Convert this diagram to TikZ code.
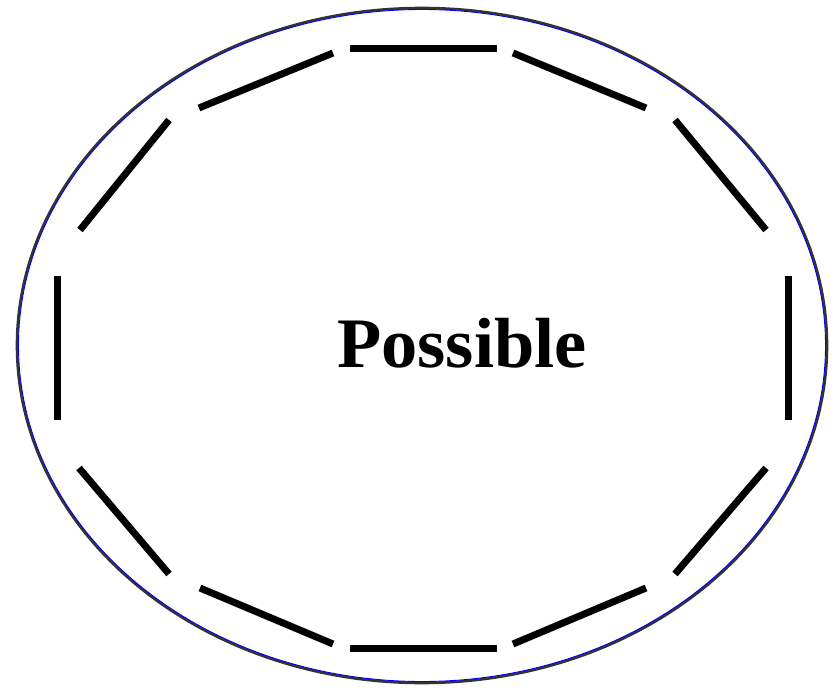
\documentclass[tikz,border=0pt]{standalone}
\usepackage{fontspec}
\newfontfamily\timesbf{Liberation Serif}[BoldFont={* Bold}]
\begin{document}
\begin{tikzpicture}[x=0.5pt, y=-0.5pt, bar/.style={black, line width=3.5pt, line cap=butt}]
      \useasboundingbox (0,0) rectangle (838,688);
      \coordinate (c) at (422,345.5);
      \draw[black!80, line width=1.3pt] (c) ellipse [x radius=405, y radius=337.5];
      \draw[blue, line width=0.45pt] (c) ellipse [x radius=403.5, y radius=336];
      \coordinate (1a) at (350,49);   \coordinate (1b) at (497,49);
      \coordinate (2a) at (513,53);   \coordinate (2b) at (646,108);
      \coordinate (3a) at (675,120);  \coordinate (3b) at (766,230);
      \coordinate (4a) at (788,276);  \coordinate (4b) at (788,420);
      \coordinate (5a) at (766,468);  \coordinate (5b) at (675,574);
      \coordinate (6a) at (646,588);  \coordinate (6b) at (513,644);
      \coordinate (7a) at (497,648);  \coordinate (7b) at (350,648);
      \coordinate (8a) at (333,644);  \coordinate (8b) at (200,588);
      \coordinate (9a) at (169,574);  \coordinate (9b) at (79,468);
      \coordinate (10a) at (57,420);  \coordinate (10b) at (57,276);
      \coordinate (11a) at (80,230);  \coordinate (11b) at (169,120);
      \coordinate (12a) at (199,108); \coordinate (12b) at (333,53);
      \foreach \i in {1,...,12} {
        \draw[bar] (\i a) -- (\i b);
      }
      \node[inner sep=0pt] (word) at (462,343) {\timesbf\bfseries\scalebox{1.02}[1]{\fontsize{35.5}{36}\selectfont Possible}};
    \end{tikzpicture}
\end{document}
